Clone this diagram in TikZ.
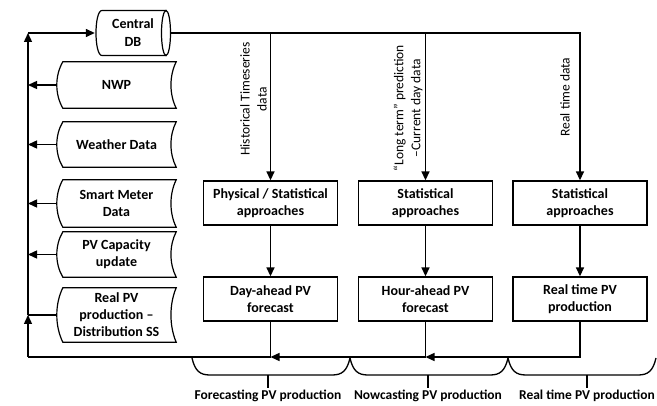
\documentclass[tikz,border=0pt]{standalone}
\usepackage{fontspec}
\setmainfont{Carlito}
\usetikzlibrary{arrows.meta,calc}
\begin{document}
\begin{tikzpicture}[x=1pt,y=-1pt,
  line/.style={line width=1.4pt},
  arr/.style={line width=1.4pt,-{Triangle[length=9pt,width=8pt]}},
  box/.style={draw,line width=1.3pt,minimum width=134pt,minimum height=44pt,align=center,font=\fontsize{14}{17}\selectfont\bfseries,inner sep=1pt},
  store/.style={minimum width=119pt,align=center,font=\fontsize{14}{17}\selectfont\bfseries,inner sep=1pt},
  outline/.style={line width=1.2pt},
  vlab/.style={rotate=90,align=center,font=\fontsize{13.5}{17}\selectfont},
  blab/.style={font=\fontsize{13.5}{16}\selectfont\bfseries},
  brace/.style={line width=1.3pt}
]
\useasboundingbox (0,0) rectangle (657,406);

% storage nodes
\node[store,minimum height=46pt] (nwp) at (116.5,85) {NWP};
\node[store,minimum height=45pt] (wd) at (116.5,144.5) {Weather Data};
\node[store,minimum height=47pt] (sm) at (116.5,203.5) {Smart Meter\\Data};
\node[store,minimum height=45pt] (pvc) at (116.5,254.5) {PV Capacity\\update};
\node[store,minimum height=54pt] (rpv) at (116.5,315) {Real PV\\production –\\Distribution SS};
\foreach \n in {nwp,wd,sm,pvc,rpv}{
  \draw[outline] ($(\n.north west)+(6,0)$) -- (\n.north east)
    .. controls ($(\n.north east)!0.3!(\n.south east)+(-7,0)$) and ($(\n.north east)!0.7!(\n.south east)+(-7,0)$) .. (\n.south east)
    -- ($(\n.south west)+(6,0)$)
    .. controls ($(\n.south west)!0.3!(\n.north west)+(-2,0)$) and ($(\n.south west)!0.7!(\n.north west)+(-2,0)$) .. cycle;
}

% central DB (horizontal cylinder)
\draw[outline,fill=white] (102,10.5) -- (166,10.5) -- (166,55.5) -- (102,55.5)
  .. controls (94,55.5) and (94,10.5) .. cycle;
\draw[outline,fill=white] (166,33) ellipse [x radius=4.5, y radius=22.5];
\node[minimum width=74pt,minimum height=45pt,align=center,font=\fontsize{14}{18}\selectfont\bfseries,inner sep=1pt] (db) at (133,33) {Central\\DB};

% processing boxes
\node[box] (ps1) at (270.5,203) {Physical / Statistical\\approaches};
\node[box] (ps2) at (425.5,203) {Statistical\\approaches};
\node[box] (ps3) at (580,203) {Statistical\\approaches};
\node[box] (fc1) at (270.5,299) {Day-ahead PV\\forecast};
\node[box] (fc2) at (425.5,299) {Hour-ahead PV\\forecast};
\node[box] (fc3) at (580,299) {Real time PV\\production};

% rotated labels
\node[vlab] (l1) at (253.5,99) {Historical Timeseries\\data};
\node[vlab] (l2) at (408,108) {“Long term” prediction\\–Current day data};
\node[vlab] (l3) at (565,97) {Real time data};

% bus coordinates
\coordinate (tl) at (28,33);
\coordinate (bl) at (28,357);
\path (fc1.south |- bl) coordinate (j1);
\path (fc2.south |- bl) coordinate (j2);

% top distribution
\draw[arr] (db.east) -| (ps3.north);
\draw[arr] (db.east -| ps1.north) -- (ps1.north);
\draw[arr] (db.east -| ps2.north) -- (ps2.north);

% between rows
\foreach \i in {1,2,3}{\draw[arr] (ps\i.south) -- (fc\i.north);}

% bottom loop
\draw[arr] (fc3.south) |- (j2);
\draw[line] (fc2.south) -- (j2);
\draw[arr] (j2) -- (j1);
\draw[line] (fc1.south) -- (j1) -- (bl);
\draw[arr] (bl) -- (rpv.west -| bl);
\draw[arr] (rpv.west -| bl) -- (tl);
\draw[arr] (tl) -- ($(db.west)+(-1,0)$);

% storage to bus
\foreach \n in {nwp,wd,sm,pvc}{\draw[arr] (\n.west) -- (\n.west -| tl);}
\draw[line] (rpv.west) -- (rpv.west -| tl);

% braces
\foreach \a/\b/\c in {192/350/268, 350/508/428, 508/656/587}{
  \draw[brace] (\a,358) .. controls (\a+3,371) and (\a+8,375) .. (\a+18,375) -- (\b-18,375) .. controls (\b-8,375) and (\b-3,371) .. (\b,358);
  \draw[brace] (\c,375) -- (\c,388);
}
\node[blab] (b1) at (268,396) {Forecasting PV production};
\node[blab] (b2) at (428,396) {Nowcasting PV production};
\node[blab] (b3) at (587,396) {Real time PV production};
\end{tikzpicture}
\end{document}
